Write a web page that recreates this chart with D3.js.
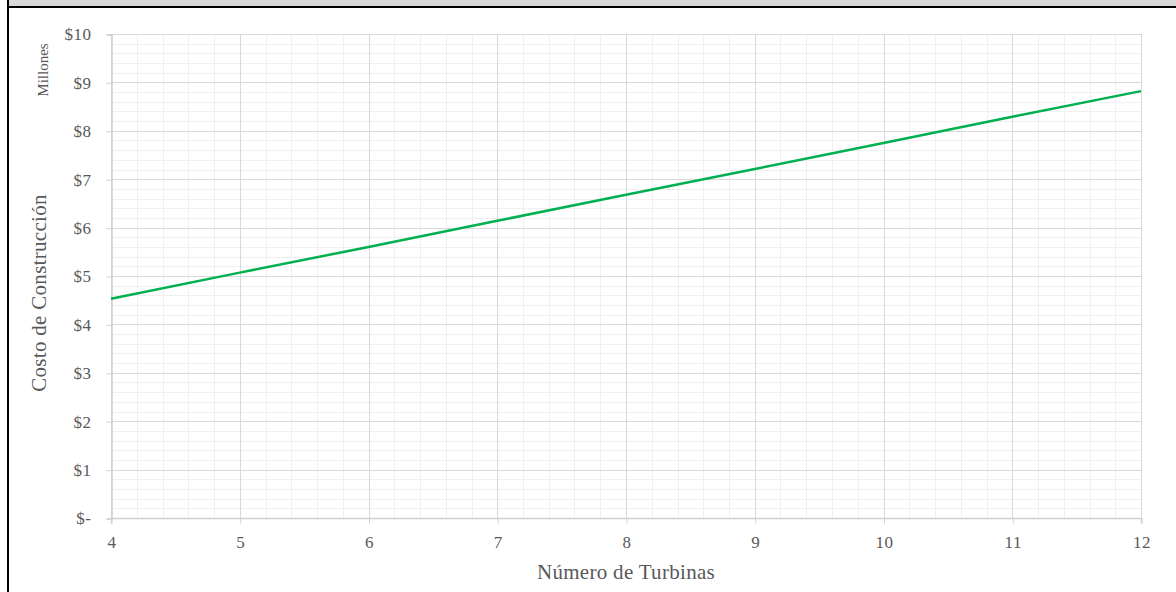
<!DOCTYPE html>
<html><head><meta charset="utf-8">
<script src="https://cdn.jsdelivr.net/npm/d3@7"></script>
<style>body{margin:0;background:#fff;}svg{display:block;}</style>
</head><body>
<svg id="c" width="1176" height="592"></svg>
<script>
const turbinas = [4, 5, 6, 7, 8, 9, 10, 11, 12];
const costo = [4.53, 5.07, 5.60, 6.14, 6.68, 7.21, 7.75, 8.29, 8.82];
const yTicks = [0, 1, 2, 3, 4, 5, 6, 7, 8, 9, 10];
const yTickLabels = ["$-", "$1", "$2", "$3", "$4", "$5", "$6", "$7", "$8", "$9", "$10"];
const xTitle = "Número de Turbinas";
const yTitle = "Costo de Construcción";
const unitLabel = "Millones";

const svg = d3.select("#c");
const font = "'Liberation Serif','Times New Roman',serif";
// frame
svg.append("rect").attr("x", 8).attr("y", 0).attr("width", 1168).attr("height", 6).attr("fill", "#d9d9d9");
svg.append("rect").attr("x", 8).attr("y", 6).attr("width", 1168).attr("height", 2).attr("fill", "#000");
svg.append("rect").attr("x", 7).attr("y", 0).attr("width", 2).attr("height", 592).attr("fill", "#000");

const x = d3.scaleLinear().domain([4, 12]).range([111, 1141]);
const y = d3.scaleLinear().domain([0, 10]).range([518, 34]);

const g = svg.append("g");
// minor grid
const minor = d3.range(0, 10.001, 0.2);
const minorX = d3.range(4, 12.001, 0.2);
g.selectAll(".mh").data(minor).join("line")
  .attr("x1", x(4)).attr("x2", x(12))
  .attr("y1", d => Math.round(y(d)) + 0.5).attr("y2", d => Math.round(y(d)) + 0.5)
  .attr("stroke", "#f0f0f0").attr("stroke-width", 1);
g.selectAll(".mv").data(minorX).join("line")
  .attr("y1", y(0)).attr("y2", y(10))
  .attr("x1", d => Math.round(x(d)) + 0.5).attr("x2", d => Math.round(x(d)) + 0.5)
  .attr("stroke", "#f0f0f0").attr("stroke-width", 1);
// major grid
g.selectAll(".Mh").data(yTicks).join("line")
  .attr("x1", x(4)).attr("x2", x(12))
  .attr("y1", d => Math.round(y(d)) + 0.5).attr("y2", d => Math.round(y(d)) + 0.5)
  .attr("stroke", "#d9d9d9").attr("stroke-width", 1);
g.selectAll(".Mv").data(turbinas).join("line")
  .attr("y1", y(0)).attr("y2", y(10))
  .attr("x1", d => Math.round(x(d)) + 0.5).attr("x2", d => Math.round(x(d)) + 0.5)
  .attr("stroke", "#d9d9d9").attr("stroke-width", 1);

// axes
const xAxis = d3.axisBottom(x).tickValues(turbinas).tickSize(5).tickPadding(12).tickFormat(d3.format("d"));
const gx = svg.append("g").attr("transform", `translate(0.5,${Math.round(y(0)) + 0.5})`).call(xAxis);
const yAxis = d3.axisLeft(y).tickValues(yTicks).tickSize(5).tickPadding(15).tickFormat((d, i) => yTickLabels[i]);
const gy = svg.append("g").attr("transform", `translate(${Math.round(x(4)) + 0.5},0.5)`).call(yAxis);
[gx, gy].forEach(a => {
  a.select(".domain").attr("stroke", "#d0d0d0").attr("stroke-width", 1.5);
  a.selectAll(".tick line").attr("stroke", "#d0d0d0");
  a.selectAll("text").attr("fill", "#595959").style("font-family", font).style("font-size", "17px").style("letter-spacing", "0.5px");
});
gx.select(".domain").attr("d", `M${x(4)},5V0H${x(12)}V5`);

// line
svg.append("path").datum(turbinas.map((t, i) => [t, costo[i]]))
  .attr("fill", "none").attr("stroke", "#00b050").attr("stroke-width", 2.5)
  .attr("d", d3.line().x(d => x(d[0])).y(d => y(d[1])));

// titles
svg.append("text").attr("x", (x(4) + x(12)) / 2).attr("y", 579).attr("text-anchor", "middle")
  .attr("fill", "#595959").style("font-family", font).style("font-size", "21px").style("letter-spacing", "0.3px").text(xTitle);
svg.append("text").attr("transform", "translate(46,293) rotate(-90)").attr("text-anchor", "middle")
  .attr("fill", "#595959").style("font-family", font).style("font-size", "21px").style("letter-spacing", "0.3px").text(yTitle);
svg.append("text").attr("transform", "translate(48,70) rotate(-90)").attr("text-anchor", "middle")
  .attr("fill", "#595959").style("font-family", font).style("font-size", "15px").text(unitLabel);
</script>
</body></html>
